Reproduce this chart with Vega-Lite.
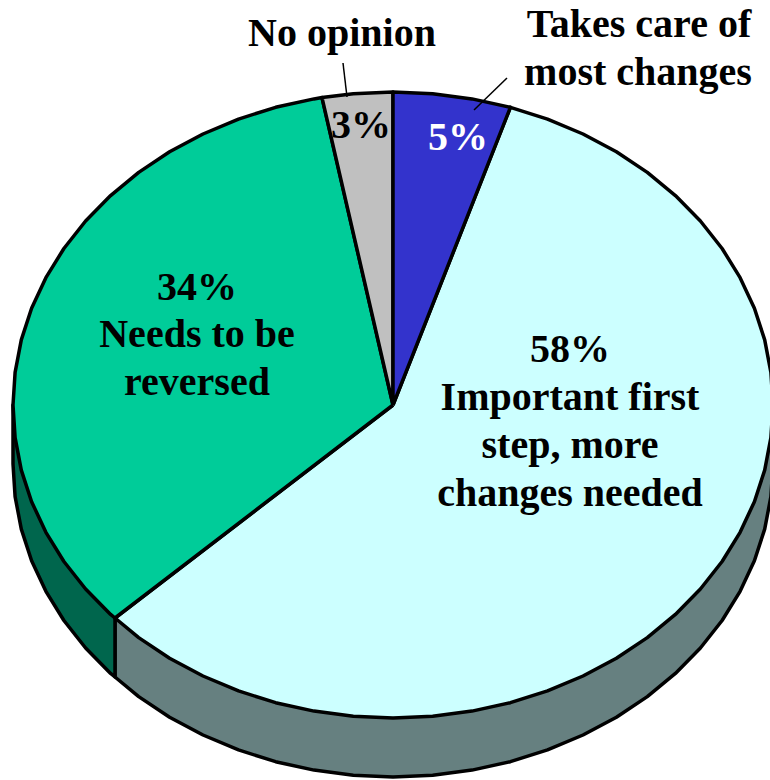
{"$schema":"https://vega.github.io/schema/vega-lite/v6.json","width":770,"height":780,"padding":0,"autosize":"none","background":"white","view":{"stroke":null},
"datasets":{"shapes":[
{"part":"wall right","seq":0,"x":773,"y":405},{"part":"wall right","seq":1,"x":773,"y":464},{"part":"wall right","seq":2,"x":770.9,"y":496.7},{"part":"wall right","seq":3,"x":764.7,"y":529.1},{"part":"wall right","seq":4,"x":754.4,"y":560.7},{"part":"wall right","seq":5,"x":740.1,"y":591.3},{"part":"wall right","seq":6,"x":722.1,"y":620.5},{"part":"wall right","seq":7,"x":700.4,"y":648},{"part":"wall right","seq":8,"x":675.4,"y":673.4},{"part":"wall right","seq":9,"x":647.3,"y":696.6},{"part":"wall right","seq":10,"x":616.4,"y":717.2},{"part":"wall right","seq":11,"x":583,"y":735},{"part":"wall right","seq":12,"x":547.5,"y":749.9},{"part":"wall right","seq":13,"x":510.4,"y":761.7},{"part":"wall right","seq":14,"x":472,"y":770.1},{"part":"wall right","seq":15,"x":432.7,"y":775.3},{"part":"wall right","seq":16,"x":393,"y":777},{"part":"wall right","seq":17,"x":353.3,"y":775.3},{"part":"wall right","seq":18,"x":314,"y":770.1},{"part":"wall right","seq":19,"x":275.6,"y":761.7},{"part":"wall right","seq":20,"x":238.5,"y":749.9},{"part":"wall right","seq":21,"x":203,"y":735},{"part":"wall right","seq":22,"x":169.6,"y":717.2},{"part":"wall right","seq":23,"x":138.7,"y":696.6},{"part":"wall right","seq":24,"x":115,"y":677},{"part":"wall right","seq":25,"x":115,"y":618},{"part":"wall right","seq":26,"x":773,"y":405},
{"part":"wall left","seq":0,"x":115,"y":618},{"part":"wall left","seq":1,"x":115,"y":677},{"part":"wall left","seq":2,"x":110.6,"y":673.4},{"part":"wall left","seq":3,"x":85.6,"y":648},{"part":"wall left","seq":4,"x":63.9,"y":620.5},{"part":"wall left","seq":5,"x":45.9,"y":591.3},{"part":"wall left","seq":6,"x":31.6,"y":560.7},{"part":"wall left","seq":7,"x":21.3,"y":529.1},{"part":"wall left","seq":8,"x":15.1,"y":496.7},{"part":"wall left","seq":9,"x":13,"y":464},{"part":"wall left","seq":10,"x":13,"y":405},{"part":"wall left","seq":11,"x":115,"y":618},
{"part":"Important first step, more changes needed","seq":0,"x":393,"y":405},{"part":"Important first step, more changes needed","seq":1,"x":510.4,"y":107.3},{"part":"Important first step, more changes needed","seq":2,"x":547.5,"y":119.1},{"part":"Important first step, more changes needed","seq":3,"x":583,"y":134},{"part":"Important first step, more changes needed","seq":4,"x":616.4,"y":151.8},{"part":"Important first step, more changes needed","seq":5,"x":647.3,"y":172.4},{"part":"Important first step, more changes needed","seq":6,"x":675.4,"y":195.6},{"part":"Important first step, more changes needed","seq":7,"x":700.4,"y":221},{"part":"Important first step, more changes needed","seq":8,"x":722.1,"y":248.5},{"part":"Important first step, more changes needed","seq":9,"x":740.1,"y":277.7},{"part":"Important first step, more changes needed","seq":10,"x":754.4,"y":308.3},{"part":"Important first step, more changes needed","seq":11,"x":764.7,"y":339.9},{"part":"Important first step, more changes needed","seq":12,"x":770.9,"y":372.3},{"part":"Important first step, more changes needed","seq":13,"x":773,"y":405},{"part":"Important first step, more changes needed","seq":14,"x":770.9,"y":437.7},{"part":"Important first step, more changes needed","seq":15,"x":764.7,"y":470.1},{"part":"Important first step, more changes needed","seq":16,"x":754.4,"y":501.7},{"part":"Important first step, more changes needed","seq":17,"x":740.1,"y":532.3},{"part":"Important first step, more changes needed","seq":18,"x":722.1,"y":561.5},{"part":"Important first step, more changes needed","seq":19,"x":700.4,"y":589},{"part":"Important first step, more changes needed","seq":20,"x":675.4,"y":614.4},{"part":"Important first step, more changes needed","seq":21,"x":647.3,"y":637.6},{"part":"Important first step, more changes needed","seq":22,"x":616.4,"y":658.2},{"part":"Important first step, more changes needed","seq":23,"x":583,"y":676},{"part":"Important first step, more changes needed","seq":24,"x":547.5,"y":690.9},{"part":"Important first step, more changes needed","seq":25,"x":510.4,"y":702.7},{"part":"Important first step, more changes needed","seq":26,"x":472,"y":711.1},{"part":"Important first step, more changes needed","seq":27,"x":432.7,"y":716.3},{"part":"Important first step, more changes needed","seq":28,"x":393,"y":718},{"part":"Important first step, more changes needed","seq":29,"x":353.3,"y":716.3},{"part":"Important first step, more changes needed","seq":30,"x":314,"y":711.1},{"part":"Important first step, more changes needed","seq":31,"x":275.6,"y":702.7},{"part":"Important first step, more changes needed","seq":32,"x":238.5,"y":690.9},{"part":"Important first step, more changes needed","seq":33,"x":203,"y":676},{"part":"Important first step, more changes needed","seq":34,"x":169.6,"y":658.2},{"part":"Important first step, more changes needed","seq":35,"x":138.7,"y":637.6},{"part":"Important first step, more changes needed","seq":36,"x":115,"y":618},{"part":"Important first step, more changes needed","seq":37,"x":393,"y":405},
{"part":"Needs to be reversed","seq":0,"x":393,"y":405},{"part":"Needs to be reversed","seq":1,"x":115,"y":618},{"part":"Needs to be reversed","seq":2,"x":110.6,"y":614.4},{"part":"Needs to be reversed","seq":3,"x":85.6,"y":589},{"part":"Needs to be reversed","seq":4,"x":63.9,"y":561.5},{"part":"Needs to be reversed","seq":5,"x":45.9,"y":532.3},{"part":"Needs to be reversed","seq":6,"x":31.6,"y":501.7},{"part":"Needs to be reversed","seq":7,"x":21.3,"y":470.1},{"part":"Needs to be reversed","seq":8,"x":15.1,"y":437.7},{"part":"Needs to be reversed","seq":9,"x":13,"y":405},{"part":"Needs to be reversed","seq":10,"x":15.1,"y":372.3},{"part":"Needs to be reversed","seq":11,"x":21.3,"y":339.9},{"part":"Needs to be reversed","seq":12,"x":31.6,"y":308.3},{"part":"Needs to be reversed","seq":13,"x":45.9,"y":277.7},{"part":"Needs to be reversed","seq":14,"x":63.9,"y":248.5},{"part":"Needs to be reversed","seq":15,"x":85.6,"y":221},{"part":"Needs to be reversed","seq":16,"x":110.6,"y":195.6},{"part":"Needs to be reversed","seq":17,"x":138.7,"y":172.4},{"part":"Needs to be reversed","seq":18,"x":169.6,"y":151.8},{"part":"Needs to be reversed","seq":19,"x":203,"y":134},{"part":"Needs to be reversed","seq":20,"x":238.5,"y":119.1},{"part":"Needs to be reversed","seq":21,"x":275.6,"y":107.3},{"part":"Needs to be reversed","seq":22,"x":314,"y":98.9},{"part":"Needs to be reversed","seq":23,"x":322,"y":97.6},{"part":"Needs to be reversed","seq":24,"x":393,"y":405},
{"part":"No opinion","seq":0,"x":393,"y":405},{"part":"No opinion","seq":1,"x":322,"y":97.6},{"part":"No opinion","seq":2,"x":353.3,"y":93.7},{"part":"No opinion","seq":3,"x":393,"y":92},{"part":"No opinion","seq":4,"x":393,"y":405},
{"part":"Takes care of most changes","seq":0,"x":393,"y":405},{"part":"Takes care of most changes","seq":1,"x":393,"y":92},{"part":"Takes care of most changes","seq":2,"x":432.7,"y":93.7},{"part":"Takes care of most changes","seq":3,"x":472,"y":98.9},{"part":"Takes care of most changes","seq":4,"x":510.4,"y":107.3},{"part":"Takes care of most changes","seq":5,"x":393,"y":405}
],
"leaders":[{"to":"No opinion","seq":0,"x":343,"y":63},{"to":"No opinion","seq":1,"x":347,"y":97},{"to":"Takes care","seq":0,"x":507,"y":78},{"to":"Takes care","seq":1,"x":474,"y":110}],
"labels":[
{"t":"No opinion","x":342,"y":46,"tone":"dark"},{"t":"Takes care of","x":639,"y":37,"tone":"dark"},{"t":"most changes","x":638,"y":85,"tone":"dark"},{"t":"3%","x":361,"y":138,"tone":"dark"},{"t":"5%","x":458,"y":150,"tone":"light"},
{"t":"34%","x":197,"y":300,"tone":"dark"},{"t":"Needs to be","x":197,"y":347,"tone":"dark"},{"t":"reversed","x":197,"y":395,"tone":"dark"},
{"t":"58%","x":570,"y":362,"tone":"dark"},{"t":"Important first","x":570,"y":410,"tone":"dark"},{"t":"step, more","x":570,"y":458,"tone":"dark"},{"t":"changes needed","x":570,"y":506,"tone":"dark"}]},
"layer":[
{"data":{"name":"shapes"},"mark":{"type":"line","stroke":"black","strokeWidth":3.5,"strokeJoin":"round","clip":true,"interpolate":"linear"},
"encoding":{"x":{"field":"x","type":"quantitative","scale":{"domain":[0,770],"nice":false,"zero":false},"axis":null},"y":{"field":"y","type":"quantitative","scale":{"domain":[780,0],"nice":false,"zero":false},"axis":null},"order":{"field":"seq","type":"quantitative"},"detail":{"field":"part"},
"fill":{"field":"part","type":"nominal","legend":null,"sort":null,"scale":{"domain":["wall right","wall left","Important first step, more changes needed","Needs to be reversed","No opinion","Takes care of most changes"],"range":["#668080","#00664d","#ccffff","#00cc99","#c0c0c0","#3333cc"]}}}},
{"data":{"name":"leaders"},"mark":{"type":"line","stroke":"black","strokeWidth":1.5},"encoding":{"x":{"field":"x","type":"quantitative"},"y":{"field":"y","type":"quantitative"},"order":{"field":"seq","type":"quantitative"},"detail":{"field":"to"}}},
{"data":{"name":"labels"},"mark":{"type":"text","font":"Liberation Serif","fontWeight":"bold","fontSize":40,"align":"center","baseline":"alphabetic"},"encoding":{"x":{"field":"x","type":"quantitative"},"y":{"field":"y","type":"quantitative"},"text":{"field":"t"},"color":{"field":"tone","type":"nominal","legend":null,"scale":{"domain":["dark","light"],"range":["#000000","#ffffff"]}}}}
]}
